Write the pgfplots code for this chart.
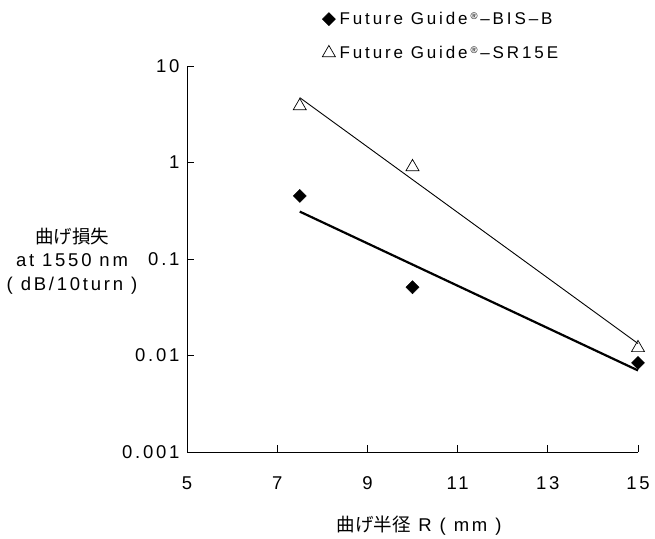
\documentclass[border=0pt]{standalone}
\usepackage{pgfplots}
\pgfplotsset{compat=1.18}
\usepackage{fontspec}
\setmainfont{Liberation Sans}[LetterSpace=15]
\newfontfamily\legfont{Liberation Sans}[LetterSpace=17]
\newfontfamily\jp{Noto Sans CJK JP}
\newcommand{\reg}{\,\raisebox{5pt}{\fontsize{9.5}{9.5}\selectfont\textregistered}\,}
\begin{document}
\begin{tikzpicture}
\useasboundingbox (0pt,0pt) rectangle (655pt,538pt);
\begin{axis}[
  at={(187pt,86pt)}, anchor=south west,
  scale only axis, width=451pt, height=386pt,
  xmin=5, xmax=15, ymode=log, ymin=0.001, ymax=10,
  axis x line*=bottom, axis y line*=left,
  xtick={5,7,9,11,13,15}, xticklabels={5,7,9,11,13,15},
  ytick={0.001,0.01,0.1,1,10}, yticklabels={0.001,0.01,0.1,1,10},
  yminorticks=false,
  tick align=inside,
  major tick length=7pt,
  tick style={black, line width=0.8pt},
  axis line style={black, line width=0.8pt},
  ticklabel style={font=\fontsize{18.5}{20}\selectfont},
  xticklabel style={yshift=-21pt},
  yticklabel style={xshift=-4pt},
  clip=false,
  legend style={at={(0.2993,1.145)}, anchor=north west, draw=none,
    font=\legfont\fontsize{17}{19}\selectfont, row sep=16pt,
    inner sep=0pt, /tikz/every even column/.append style={column sep=0pt}},
  legend cell align=left,
  legend image code/.code={\draw[#1] plot coordinates {(6.5pt,0pt)}; \path (0pt,0pt) (15pt,0pt);},
]
\addplot[only marks, mark=square*, mark size=4.6pt, mark options={rotate=45, fill=black, draw=black}]
  coordinates {(7.5,0.45) (10,0.051) (15,0.0084)};
\addlegendentry{Future Guide\reg–BIS–B}
\addplot[only marks, mark=triangle, mark size=7.5pt, mark options={draw=black, fill=white, line width=0.7pt}]
  coordinates {(7.5,3.85) (10,0.90) (15,0.012)};
\addlegendentry{Future Guide\reg–SR15E}
\addplot[forget plot, black, line width=2.2pt] coordinates {(7.5,0.31) (15,0.0070)};
\addplot[forget plot, black, line width=0.9pt] coordinates {(7.5,4.7) (15,0.0133)};
\end{axis}
\node[align=center, font=\fontsize{18.5}{23.5}\selectfont] at (72pt,277pt) {{\jp 曲げ損失}\\at 1550 nm\\( dB/10turn )};
\node[font=\fontsize{18.5}{20}\selectfont] at (419pt,12pt) {{\jp 曲げ半径} R ( mm )};
\end{tikzpicture}
\end{document}
